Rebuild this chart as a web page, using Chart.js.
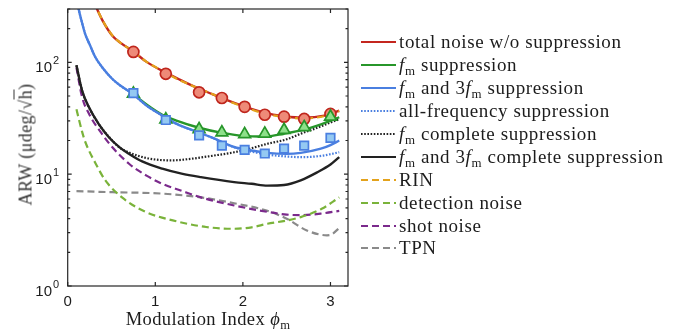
<!DOCTYPE html>
<html>
<head>
<meta charset="utf-8">
<script src="https://cdn.jsdelivr.net/npm/chart.js@4.4.1/dist/chart.umd.min.js"></script>
<style>
  html, body { margin: 0; padding: 0; background: #fff; }
  #wrap { position: relative; width: 673px; height: 333px; overflow: hidden; }
  #wrap canvas { position: absolute; left: 0; top: 0; }
  .serif { font-family: "Liberation Serif", "DejaVu Serif", serif; color: #1c1c1c; }
  #ytitle { position: absolute; left: -74px; top: 134px; width: 200px; text-align: center; color: #333;
            font-size: 18px; letter-spacing: 0.4px; transform: rotate(-90deg); white-space: nowrap; }
  #xtitle { position: absolute; left: 108px; top: 309px; width: 200px; text-align: center;
            font-size: 18.5px; letter-spacing: 0.4px; white-space: nowrap; }
  .ol { border-top: 1px solid #333; padding-top: 1px; }
  sub { font-size: 68%; vertical-align: -0.3em; line-height: 0; }
  #legend { position: absolute; left: 361px; top: 31px; }
  .item { height: 22.9px; display: flex; align-items: center; font-size: 19px; letter-spacing: 0.6px; white-space: nowrap; }
  .item svg { width: 35px; height: 6px; margin-right: 3px; flex: none; }
</style>
</head>
<body>
<div id="wrap">
  <canvas id="arwChart" width="673" height="333"></canvas>
  <div id="ytitle" class="serif">ARW (μdeg/√<span class="ol">h</span>)</div>
  <div id="xtitle" class="serif">Modulation Index <i>ϕ</i><sub>m</sub></div>
  <div id="legend" class="serif"></div>
</div>
<script>
// ARW vs modulation index

// axis ticks
const xTicks = [0, 1, 2, 3];
const yTicks = [1, 10, 100];

// total noise w/o suppression (solid) and RIN (dashed, sits on top of it)
const totalPhi  = [0.30, 0.335, 0.40, 0.51, 0.60, 0.75, 0.90, 1.08, 1.25, 1.46, 1.65, 1.76, 2.01, 2.24, 2.47, 2.70, 2.93, 3.10];
const totalVals = [350, 300, 235, 173, 150, 125, 101, 84, 72, 60, 52, 48, 40.5, 35.5, 33, 32, 33.4, 37];
const rinPhi    = [0.30, 0.335, 0.40, 0.51, 0.60, 0.75, 0.90, 1.08, 1.25, 1.46, 1.65, 1.76, 2.01, 2.24, 2.47, 2.70, 2.93, 3.10];
const rinVals   = [350, 300, 236, 174, 150, 125, 101, 84, 71, 60, 52, 47.5, 40, 35, 32.5, 31.5, 33, 36.5];

// f_m suppression
const fmPhi  = [0.75, 0.90, 1.08, 1.25, 1.50, 1.75, 2.00, 2.25, 2.47, 2.70, 2.90, 3.00, 3.10];
const fmVals = [52, 42, 34, 30, 26, 23.5, 22, 21.7, 23, 25, 28, 30, 32.3];

// f_m and 3f_m suppression, all-frequency suppression
const fm3Phi  = [0.11, 0.125, 0.16, 0.20, 0.25, 0.316, 0.40, 0.51, 0.60, 0.745, 0.90, 1.08, 1.25, 1.49, 1.65, 1.90, 2.10, 2.28, 2.50, 2.66, 2.89, 3.00, 3.10];
const fm3Vals = [350, 300, 232, 179, 145, 111, 89, 71, 62, 52, 41, 33.4, 28, 23.7, 21.2, 17.5, 16.3, 15.5, 15.2, 15.5, 16.9, 18.2, 20];
const allPhi  = [0.11, 0.125, 0.16, 0.20, 0.25, 0.316, 0.40, 0.51, 0.60, 0.745, 0.90, 1.08, 1.25, 1.49, 1.65, 1.90, 2.10, 2.30, 2.50, 2.66, 2.90, 3.10];
const allVals = [350, 300, 232, 179, 145, 111, 89, 71, 62, 52, 41, 33.4, 28, 23.7, 21.2, 17.4, 15.9, 14.9, 14.4, 14.2, 14.6, 15.7];

// complete suppression curves
const fmCompPhi   = [0.10, 0.164, 0.24, 0.355, 0.47, 0.58, 0.70, 0.89, 1.05, 1.20, 1.40, 1.65, 1.90, 2.09, 2.28, 2.50, 2.66, 2.85, 3.00, 3.10];
const fmCompVals  = [94, 56, 40, 28, 21.6, 17.6, 15.6, 14, 13.4, 13.3, 13.7, 14.6, 15.7, 17, 18.7, 20.5, 23, 26, 29, 31];
const fm3CompPhi  = [0.10, 0.164, 0.24, 0.355, 0.47, 0.60, 0.70, 0.85, 1.08, 1.30, 1.52, 1.90, 2.10, 2.28, 2.47, 2.66, 2.85, 3.00, 3.10];
const fm3CompVals = [94, 56, 40, 28, 21.4, 17.2, 15.2, 13, 11.2, 10.1, 9.4, 8.5, 8.2, 7.9, 8.0, 8.8, 10.4, 12.2, 14.2];

// noise components
const detPhi   = [0.10, 0.164, 0.20, 0.32, 0.43, 0.62, 0.89, 1.20, 1.58, 1.90, 2.10, 2.28, 2.50, 2.66, 2.90, 3.10];
const detVals  = [38, 24, 19.5, 12.4, 8.8, 6.2, 4.6, 3.86, 3.37, 3.25, 3.35, 3.6, 3.85, 4.13, 4.9, 6.2];
const shotPhi  = [0.10, 0.164, 0.24, 0.39, 0.51, 0.70, 0.90, 1.08, 1.30, 1.52, 1.90, 2.28, 2.50, 2.66, 2.90, 3.10];
const shotVals = [90, 49, 35, 23, 17.4, 12.4, 9.7, 8.2, 7.1, 6.2, 5.25, 4.6, 4.35, 4.3, 4.45, 4.7];
const tpnPhi   = [0.10, 0.51, 1.08, 1.52, 1.90, 2.28, 2.50, 2.73, 2.96, 3.00, 3.10];
const tpnVals  = [7.05, 6.9, 6.7, 6.2, 5.5, 4.7, 4.0, 3.14, 2.84, 2.86, 3.3];

// measured points
const measPhi   = [0.75, 1.12, 1.50, 1.76, 2.02, 2.25, 2.47, 2.70, 3.00];
const totalMeas = [124, 79, 54, 48, 40, 34, 32.7, 31.2, 34.6];
const fmMeas    = [52.5, 30.8, 25.2, 23.6, 22.8, 23, 24.8, 26.3, 32.6];
const fm3Meas   = [53, 30.5, 22.2, 18, 16.5, 15.3, 16.9, 18, 21.1];

const pts = (xs, ys) => xs.map((x, i) => ({ x, y: ys[i] }));

const FM = '<i>f</i><sub>m</sub>';
const DASH = [7, 4];
const DOT = [1.6, 1.6];

function curve(label, html, xs, ys, color, dash, order) {
  return {
    label, legendHtml: html, data: pts(xs, ys),
    borderColor: color, backgroundColor: color, borderWidth: dash.length ? 2.2 : 2.4, borderDash: dash,
    pointRadius: 0, cubicInterpolationMode: 'monotone', fill: false, order
  };
}
function markers(label, xs, ys, style, fillCol, edgeCol, radius, order) {
  return {
    label, data: pts(xs, ys), showLine: false,
    pointStyle: style, pointRadius: radius, pointBackgroundColor: fillCol,
    pointBorderColor: edgeCol, pointBorderWidth: 1.7, order
  };
}

const datasets = [
  curve('total noise w/o suppression', 'total noise w/o suppression', totalPhi, totalVals, '#c4261f', [], 9),
  curve('fm suppression', FM + ' suppression', fmPhi, fmVals, '#27962a', [], 8),
  curve('fm and 3fm suppression', FM + ' and 3' + FM + ' suppression', fm3Phi, fm3Vals, '#4a7fe0', [], 6),
  curve('all-frequency suppression', 'all-frequency suppression', allPhi, allVals, '#4a7fe0', DOT, 7),
  curve('fm complete suppression', FM + ' complete suppression', fmCompPhi, fmCompVals, '#222222', DOT, 11),
  curve('fm and 3fm complete suppression', FM + ' and 3' + FM + ' complete suppression', fm3CompPhi, fm3CompVals, '#222222', [], 10),
  curve('RIN', 'RIN', rinPhi, rinVals, '#e3a21c', DASH, 5),
  curve('detection noise', 'detection noise', detPhi, detVals, '#7ab33a', DASH, 12),
  curve('shot noise', 'shot noise', shotPhi, shotVals, '#7b2a8c', DASH, 12),
  curve('TPN', 'TPN', tpnPhi, tpnVals, '#8a8a8a', DASH, 13),
  markers('total measured', measPhi, totalMeas, 'circle', '#ee8a78', '#bf261d', 5.5, 3),
  markers('fm measured', measPhi, fmMeas, 'triangle', '#8ee08a', '#27962a', 6.8, 2),
  markers('fm3 measured', measPhi, fm3Meas, 'rect', '#94c9f2', '#4a7fe0', 6, 1)
];

// box, inward ticks and 10^n labels
const frame = {
  id: 'frame',
  afterDraw(chart) {
    const { ctx, chartArea: a, scales: { x, y } } = chart;
    ctx.save();
    ctx.strokeStyle = '#262626';
    ctx.lineWidth = 1.2;
    ctx.strokeRect(a.left, a.top, a.right - a.left, a.bottom - a.top);
    ctx.beginPath();
    xTicks.forEach(v => {
      const px = x.getPixelForValue(v);
      ctx.moveTo(px, a.bottom); ctx.lineTo(px, a.bottom - 4);
      ctx.moveTo(px, a.top); ctx.lineTo(px, a.top + 4);
    });
    for (let dec = 1; dec <= 100; dec *= 10) {
      for (let m = 1; m <= 9; m++) {
        const v = dec * m;
        if (v > 300) break;
        const py = y.getPixelForValue(v);
        const len = m === 1 ? 4 : 2.5;
        ctx.moveTo(a.left, py); ctx.lineTo(a.left + len, py);
        ctx.moveTo(a.right, py); ctx.lineTo(a.right - len, py);
      }
    }
    ctx.stroke();
    ctx.fillStyle = '#1c1c1c';
    yTicks.forEach(v => {
      const py = y.getPixelForValue(v);
      ctx.font = '15px "Liberation Sans", Arial, sans-serif';
      ctx.textAlign = 'right';
      ctx.textBaseline = 'alphabetic';
      ctx.fillText('10', 52, py + 9.5);
      ctx.font = '11px "Liberation Sans", Arial, sans-serif';
      ctx.textAlign = 'left';
      ctx.fillText(String(Math.round(Math.log10(v))), 53, py + 1.8);
    });
    ctx.restore();
  }
};

const chart = new Chart(document.getElementById('arwChart'), {
  type: 'line',
  data: { datasets },
  options: {
    responsive: false,
    animation: false,
    parsing: true,
    layout: { padding: { top: 9, right: 325, left: 0, bottom: 0 } },
    plugins: { legend: { display: false }, tooltip: { enabled: false } },
    scales: {
      x: {
        type: 'linear', min: 0, max: 3.2,
        afterBuildTicks: s => { s.ticks = xTicks.map(v => ({ value: v })); },
        afterFit: s => { s.height = 47; },
        grid: { display: false, drawTicks: false },
        border: { display: false },
        ticks: { padding: 7, color: '#1c1c1c', font: { family: '"Liberation Sans", Arial, sans-serif', size: 15 } }
      },
      y: {
        type: 'logarithmic', min: 1, max: 300,
        afterFit: s => { s.width = 67.7; },
        grid: { display: false, drawTicks: false },
        border: { display: false },
        ticks: { display: false }
      }
    }
  },
  plugins: [frame]
});

// HTML legend built from the curve datasets
const legend = document.getElementById('legend');
datasets.filter(d => d.legendHtml).forEach(d => {
  const row = document.createElement('div');
  row.className = 'item';
  const dash = d.borderDash.length ? d.borderDash.join(' ') : 'none';
  row.innerHTML = `<svg viewBox="0 0 35 6"><line x1="0" y1="3" x2="35" y2="3" stroke="${d.borderColor}" stroke-width="2.2" stroke-dasharray="${dash}"/></svg><span>${d.legendHtml}</span>`;
  legend.appendChild(row);
});
</script>
</body>
</html>
